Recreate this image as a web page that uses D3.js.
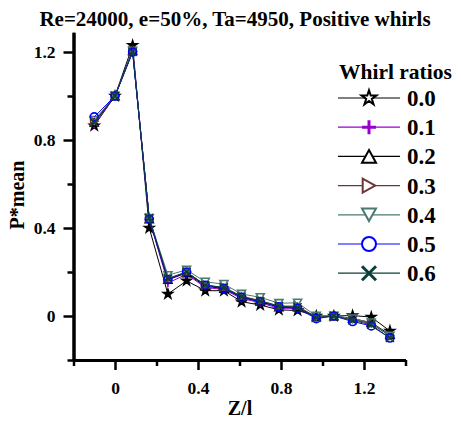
<!DOCTYPE html>
<html>
<head>
<meta charset="utf-8">
<script src="https://cdn.jsdelivr.net/npm/d3@7"></script>
<style>
  html, body { margin: 0; padding: 0; background: #fff; }
  svg text { font-family: "Liberation Serif", "Times New Roman", serif; font-weight: bold; fill: #000; }
</style>
</head>
<body>
<svg id="chart" width="461" height="421"></svg>
<script>
// Z/l positions of the pressure taps
const zl = [-0.1, 0, 0.085, 0.165, 0.255, 0.345, 0.435, 0.525, 0.61, 0.7, 0.79, 0.88, 0.97, 1.055, 1.145, 1.235, 1.325];

const whirl00 = [0.865, 1.0, 1.23, 0.40, 0.10, 0.16, 0.115, 0.115, 0.065, 0.05, 0.028, 0.025, 0.0, 0.0, 0.002, -0.005, -0.068];
const whirl01 = [0.87, 1.0, 1.21, 0.44, 0.15, 0.19, 0.13, 0.12, 0.08, 0.06, 0.035, 0.035, -0.005, 0.0, -0.015, -0.035, -0.09];
const whirl02 = [0.88, 1.0, 1.205, 0.44, 0.165, 0.195, 0.135, 0.125, 0.085, 0.065, 0.04, 0.04, -0.005, 0.0, -0.012, -0.03, -0.085];
const whirl03 = [0.885, 1.0, 1.205, 0.445, 0.17, 0.2, 0.14, 0.13, 0.09, 0.07, 0.045, 0.045, -0.005, 0.0, -0.015, -0.033, -0.09];
const whirl04 = [0.89, 1.0, 1.205, 0.445, 0.185, 0.21, 0.155, 0.145, 0.1, 0.085, 0.058, 0.06, 0.0, 0.0, -0.012, -0.03, -0.09];
const whirl05 = [0.905, 1.0, 1.2, 0.44, 0.165, 0.2, 0.14, 0.125, 0.085, 0.065, 0.042, 0.035, -0.012, 0.0, -0.025, -0.045, -0.1];
const whirl06 = [0.88, 1.0, 1.2, 0.445, 0.17, 0.2, 0.14, 0.13, 0.088, 0.068, 0.045, 0.04, -0.008, 0.0, -0.02, -0.04, -0.1];

const ratioLabels = ["0.0", "0.1", "0.2", "0.3", "0.4", "0.5", "0.6"];
const xTicks = [0, 0.4, 0.8, 1.2];
const xMinor = [-0.2, 0.2, 0.6, 1.0, 1.4];
const yTicks = [0, 0.4, 0.8, 1.2];
const yMinor = [-0.2, 0.2, 0.6, 1.0];

const seriesValues = [whirl00, whirl01, whirl02, whirl03, whirl04, whirl05, whirl06];
const colors  = ["#000000", "#9a00cc", "#000000", "#6e3535", "#4a7a72", "#0000ff", "#0b3f3a"];
const shapes  = ["star", "plus", "up", "right", "down", "circle", "cross"];

const series = seriesValues.map((vals, i) => ({
    label: ratioLabels[i],
    color: colors[i],
    shape: shapes[i],
    points: vals.map((v, j) => ({ x: zl[j], y: v }))
}));

const svg = d3.select("#chart");

const x = d3.scaleLinear().domain([-0.2, 1.4]).range([73.5, 405.5]);
const y = d3.scaleLinear().domain([-0.2, 1.29]).range([360, 32.2]);

// marker paths, r = half width
function markerPath(shape, r) {
    if (shape === "star") return d3.symbol(d3.symbolStar, r * r * 1.6)();
    if (shape === "circle") return d3.symbol(d3.symbolCircle, Math.PI * r * r)();
    if (shape === "plus") return `M${-r},0H${r}M0,${-r}V${r}`;
    if (shape === "cross") return `M${-r},${-r}L${r},${r}M${-r},${r}L${r},${-r}`;
    const h = r * 0.9;
    if (shape === "up") return `M0,${-h}L${r},${h}L${-r},${h}Z`;
    if (shape === "down") return `M0,${h}L${r},${-h}L${-r},${-h}Z`;
    if (shape === "right") return `M${h},0L${-h},${-r}L${-h},${r}Z`;
}

// axes
const axisStyle = g => {
    g.selectAll(".domain").attr("stroke", "#000").attr("stroke-width", 3);
    g.selectAll(".tick line").attr("stroke", "#000").attr("stroke-width", 2.5);
    g.selectAll(".tick text").attr("font-size", 17.5).attr("font-family", null);
};

svg.append("g")
    .attr("transform", "translate(0,360)")
    .call(d3.axisBottom(x).tickValues(xMinor).tickSize(6).tickSizeOuter(0).tickFormat(""))
    .call(axisStyle);
svg.append("g")
    .attr("transform", "translate(0,360)")
    .call(d3.axisBottom(x).tickValues(xTicks).tickSize(10).tickSizeOuter(0).tickPadding(12)
        .tickFormat(d => d === 0 ? "0" : d3.format(".1f")(d)))
    .call(axisStyle);

svg.append("g")
    .attr("transform", "translate(73.5,0)")
    .call(d3.axisLeft(y).tickValues(yMinor).tickSize(6).tickSizeOuter(0).tickFormat(""))
    .call(axisStyle);
svg.append("g")
    .attr("transform", "translate(73.5,0)")
    .call(d3.axisLeft(y).tickValues(yTicks).tickSize(10).tickSizeOuter(0).tickPadding(8)
        .tickFormat(d => d === 0 ? "0" : d3.format(".1f")(d)))
    .call(axisStyle);

svg.selectAll("g.tick text").attr("fill", "#000");

// lines
const line = d3.line().x(d => x(d.x)).y(d => y(d.y));
const sg = svg.selectAll(".series")
    .data(series).enter().append("g").attr("class", "series");

sg.append("path")
    .attr("d", d => line(d.points))
    .attr("fill", "none")
    .attr("stroke", d => d.color)
    .attr("stroke-width", 1);

sg.each(function(s) {
    d3.select(this).selectAll("path.mk")
        .data(s.points).enter().append("path")
        .attr("class", "mk")
        .attr("transform", d => `translate(${x(d.x)},${y(d.y)})`)
        .attr("d", markerPath(s.shape, 4))
        .attr("fill", s.shape === "star" ? "#000" : "none")
        .attr("stroke", s.color)
        .attr("stroke-width", 1.6);
});

// title + axis labels
svg.append("text")
    .attr("x", 235).attr("y", 26)
    .attr("text-anchor", "middle")
    .attr("font-size", 21)
    .text("Re=24000, e=50%, Ta=4950, Positive whirls");

svg.append("text")
    .attr("x", 240).attr("y", 415)
    .attr("text-anchor", "middle")
    .attr("font-size", 20)
    .text("Z/l");

svg.append("text")
    .attr("transform", "translate(24,195) rotate(-90)")
    .attr("text-anchor", "middle")
    .attr("font-size", 20)
    .text("P*mean");

// legend
const legend = svg.append("g");
legend.append("text")
    .attr("x", 339).attr("y", 79)
    .attr("font-size", 21.5)
    .text("Whirl ratios");

const rowY = i => 98 + i * 29.2;
const items = legend.selectAll(".leg")
    .data(series).enter().append("g")
    .attr("transform", (d, i) => `translate(0,${rowY(i)})`);

items.append("line")
    .attr("x1", 338).attr("x2", 400)
    .attr("stroke", d => d.color).attr("stroke-width", 1.2);

items.append("path")
    .attr("transform", "translate(369,0)")
    .attr("d", d => markerPath(d.shape, d.shape === "star" ? 6.5 : 7))
    .attr("fill", "#fff")
    .attr("stroke", d => d.color)
    .attr("stroke-width", d => (d.shape === "plus" || d.shape === "cross") ? 3 : 2);

items.append("text")
    .attr("x", 407).attr("y", 8)
    .attr("font-size", 23)
    .text(d => d.label);
</script>
</body>
</html>
